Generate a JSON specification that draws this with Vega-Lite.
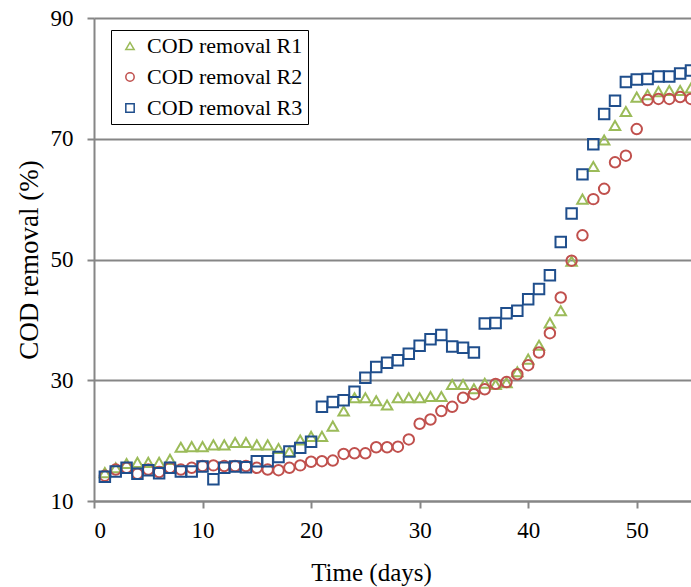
{
  "$schema": "https://vega.github.io/schema/vega-lite/v6.json",
  "width": 597,
  "height": 483,
  "autosize": {"type": "none"},
  "padding": {"left": 94, "top": 18, "right": 0, "bottom": 86},
  "background": "white",
  "config": {
    "view": {"stroke": null},
    "font": "Liberation Serif",
    "legend": {"labelFont": "Liberation Serif", "labelFontSize": 22, "labelColor": "black"}
  },
  "datasets": {
    "cod": [
      {"day": 1, "series": "COD removal R1", "removal": 14.7},
      {"day": 2, "series": "COD removal R1", "removal": 15.5},
      {"day": 3, "series": "COD removal R1", "removal": 16.2},
      {"day": 4, "series": "COD removal R1", "removal": 16.4},
      {"day": 5, "series": "COD removal R1", "removal": 16.4},
      {"day": 6, "series": "COD removal R1", "removal": 16.4},
      {"day": 7, "series": "COD removal R1", "removal": 16.9},
      {"day": 8, "series": "COD removal R1", "removal": 18.9},
      {"day": 9, "series": "COD removal R1", "removal": 19.0},
      {"day": 10, "series": "COD removal R1", "removal": 19.0},
      {"day": 11, "series": "COD removal R1", "removal": 19.3},
      {"day": 12, "series": "COD removal R1", "removal": 19.3},
      {"day": 13, "series": "COD removal R1", "removal": 19.7},
      {"day": 14, "series": "COD removal R1", "removal": 19.7},
      {"day": 15, "series": "COD removal R1", "removal": 19.3},
      {"day": 16, "series": "COD removal R1", "removal": 19.3},
      {"day": 17, "series": "COD removal R1", "removal": 18.7},
      {"day": 18, "series": "COD removal R1", "removal": 18.2},
      {"day": 19, "series": "COD removal R1", "removal": 20.1},
      {"day": 20, "series": "COD removal R1", "removal": 20.7},
      {"day": 21, "series": "COD removal R1", "removal": 20.7},
      {"day": 22, "series": "COD removal R1", "removal": 22.4},
      {"day": 23, "series": "COD removal R1", "removal": 24.9},
      {"day": 24, "series": "COD removal R1", "removal": 27.1},
      {"day": 25, "series": "COD removal R1", "removal": 27.1},
      {"day": 26, "series": "COD removal R1", "removal": 26.6},
      {"day": 27, "series": "COD removal R1", "removal": 25.9},
      {"day": 28, "series": "COD removal R1", "removal": 27.1},
      {"day": 29, "series": "COD removal R1", "removal": 27.1},
      {"day": 30, "series": "COD removal R1", "removal": 27.1},
      {"day": 31, "series": "COD removal R1", "removal": 27.3},
      {"day": 32, "series": "COD removal R1", "removal": 27.3},
      {"day": 33, "series": "COD removal R1", "removal": 29.3},
      {"day": 34, "series": "COD removal R1", "removal": 29.3},
      {"day": 35, "series": "COD removal R1", "removal": 28.6},
      {"day": 36, "series": "COD removal R1", "removal": 29.5},
      {"day": 37, "series": "COD removal R1", "removal": 29.3},
      {"day": 38, "series": "COD removal R1", "removal": 29.6},
      {"day": 39, "series": "COD removal R1", "removal": 31.4},
      {"day": 40, "series": "COD removal R1", "removal": 33.5},
      {"day": 41, "series": "COD removal R1", "removal": 35.8},
      {"day": 42, "series": "COD removal R1", "removal": 39.5},
      {"day": 43, "series": "COD removal R1", "removal": 41.5},
      {"day": 44, "series": "COD removal R1", "removal": 49.7},
      {"day": 45, "series": "COD removal R1", "removal": 60.0},
      {"day": 46, "series": "COD removal R1", "removal": 65.4},
      {"day": 47, "series": "COD removal R1", "removal": 69.8},
      {"day": 48, "series": "COD removal R1", "removal": 72.2},
      {"day": 49, "series": "COD removal R1", "removal": 74.5},
      {"day": 50, "series": "COD removal R1", "removal": 76.9},
      {"day": 51, "series": "COD removal R1", "removal": 77.3},
      {"day": 52, "series": "COD removal R1", "removal": 77.8},
      {"day": 53, "series": "COD removal R1", "removal": 78.0},
      {"day": 54, "series": "COD removal R1", "removal": 78.0},
      {"day": 55, "series": "COD removal R1", "removal": 78.4},
      {"day": 1, "series": "COD removal R2", "removal": 14.2},
      {"day": 2, "series": "COD removal R2", "removal": 15.2},
      {"day": 3, "series": "COD removal R2", "removal": 15.5},
      {"day": 4, "series": "COD removal R2", "removal": 14.5},
      {"day": 5, "series": "COD removal R2", "removal": 15.2},
      {"day": 6, "series": "COD removal R2", "removal": 14.8},
      {"day": 7, "series": "COD removal R2", "removal": 15.5},
      {"day": 8, "series": "COD removal R2", "removal": 15.2},
      {"day": 9, "series": "COD removal R2", "removal": 15.5},
      {"day": 10, "series": "COD removal R2", "removal": 15.8},
      {"day": 11, "series": "COD removal R2", "removal": 15.9},
      {"day": 12, "series": "COD removal R2", "removal": 15.8},
      {"day": 13, "series": "COD removal R2", "removal": 15.8},
      {"day": 14, "series": "COD removal R2", "removal": 15.8},
      {"day": 15, "series": "COD removal R2", "removal": 15.5},
      {"day": 16, "series": "COD removal R2", "removal": 15.2},
      {"day": 17, "series": "COD removal R2", "removal": 15.1},
      {"day": 18, "series": "COD removal R2", "removal": 15.5},
      {"day": 19, "series": "COD removal R2", "removal": 15.9},
      {"day": 20, "series": "COD removal R2", "removal": 16.5},
      {"day": 21, "series": "COD removal R2", "removal": 16.6},
      {"day": 22, "series": "COD removal R2", "removal": 16.7},
      {"day": 23, "series": "COD removal R2", "removal": 17.8},
      {"day": 24, "series": "COD removal R2", "removal": 17.9},
      {"day": 25, "series": "COD removal R2", "removal": 17.9},
      {"day": 26, "series": "COD removal R2", "removal": 18.9},
      {"day": 27, "series": "COD removal R2", "removal": 18.9},
      {"day": 28, "series": "COD removal R2", "removal": 19.0},
      {"day": 29, "series": "COD removal R2", "removal": 20.2},
      {"day": 30, "series": "COD removal R2", "removal": 22.8},
      {"day": 31, "series": "COD removal R2", "removal": 23.5},
      {"day": 32, "series": "COD removal R2", "removal": 24.9},
      {"day": 33, "series": "COD removal R2", "removal": 25.6},
      {"day": 34, "series": "COD removal R2", "removal": 27.1},
      {"day": 35, "series": "COD removal R2", "removal": 27.7},
      {"day": 36, "series": "COD removal R2", "removal": 28.5},
      {"day": 37, "series": "COD removal R2", "removal": 29.4},
      {"day": 38, "series": "COD removal R2", "removal": 29.7},
      {"day": 39, "series": "COD removal R2", "removal": 31.0},
      {"day": 40, "series": "COD removal R2", "removal": 32.5},
      {"day": 41, "series": "COD removal R2", "removal": 34.6},
      {"day": 42, "series": "COD removal R2", "removal": 37.8},
      {"day": 43, "series": "COD removal R2", "removal": 43.7},
      {"day": 44, "series": "COD removal R2", "removal": 49.8},
      {"day": 45, "series": "COD removal R2", "removal": 54.0},
      {"day": 46, "series": "COD removal R2", "removal": 60.0},
      {"day": 47, "series": "COD removal R2", "removal": 61.7},
      {"day": 48, "series": "COD removal R2", "removal": 66.1},
      {"day": 49, "series": "COD removal R2", "removal": 67.2},
      {"day": 50, "series": "COD removal R2", "removal": 71.6},
      {"day": 51, "series": "COD removal R2", "removal": 76.4},
      {"day": 52, "series": "COD removal R2", "removal": 76.6},
      {"day": 53, "series": "COD removal R2", "removal": 76.6},
      {"day": 54, "series": "COD removal R2", "removal": 76.9},
      {"day": 55, "series": "COD removal R2", "removal": 76.6},
      {"day": 1, "series": "COD removal R3", "removal": 14.0},
      {"day": 2, "series": "COD removal R3", "removal": 14.9},
      {"day": 3, "series": "COD removal R3", "removal": 15.5},
      {"day": 4, "series": "COD removal R3", "removal": 14.5},
      {"day": 5, "series": "COD removal R3", "removal": 15.1},
      {"day": 6, "series": "COD removal R3", "removal": 14.6},
      {"day": 7, "series": "COD removal R3", "removal": 15.5},
      {"day": 8, "series": "COD removal R3", "removal": 14.9},
      {"day": 9, "series": "COD removal R3", "removal": 14.9},
      {"day": 10, "series": "COD removal R3", "removal": 15.7},
      {"day": 11, "series": "COD removal R3", "removal": 13.6},
      {"day": 12, "series": "COD removal R3", "removal": 15.5},
      {"day": 13, "series": "COD removal R3", "removal": 15.7},
      {"day": 14, "series": "COD removal R3", "removal": 15.6},
      {"day": 15, "series": "COD removal R3", "removal": 16.6},
      {"day": 16, "series": "COD removal R3", "removal": 16.6},
      {"day": 17, "series": "COD removal R3", "removal": 17.3},
      {"day": 18, "series": "COD removal R3", "removal": 18.2},
      {"day": 19, "series": "COD removal R3", "removal": 18.8},
      {"day": 20, "series": "COD removal R3", "removal": 19.8},
      {"day": 21, "series": "COD removal R3", "removal": 25.6},
      {"day": 22, "series": "COD removal R3", "removal": 26.4},
      {"day": 23, "series": "COD removal R3", "removal": 26.7},
      {"day": 24, "series": "COD removal R3", "removal": 28.1},
      {"day": 25, "series": "COD removal R3", "removal": 30.4},
      {"day": 26, "series": "COD removal R3", "removal": 32.2},
      {"day": 27, "series": "COD removal R3", "removal": 32.9},
      {"day": 28, "series": "COD removal R3", "removal": 33.3},
      {"day": 29, "series": "COD removal R3", "removal": 34.4},
      {"day": 30, "series": "COD removal R3", "removal": 35.7},
      {"day": 31, "series": "COD removal R3", "removal": 36.8},
      {"day": 32, "series": "COD removal R3", "removal": 37.5},
      {"day": 33, "series": "COD removal R3", "removal": 35.6},
      {"day": 34, "series": "COD removal R3", "removal": 35.4},
      {"day": 35, "series": "COD removal R3", "removal": 34.6},
      {"day": 36, "series": "COD removal R3", "removal": 39.4},
      {"day": 37, "series": "COD removal R3", "removal": 39.5},
      {"day": 38, "series": "COD removal R3", "removal": 41.1},
      {"day": 39, "series": "COD removal R3", "removal": 41.5},
      {"day": 40, "series": "COD removal R3", "removal": 43.4},
      {"day": 41, "series": "COD removal R3", "removal": 45.1},
      {"day": 42, "series": "COD removal R3", "removal": 47.4},
      {"day": 43, "series": "COD removal R3", "removal": 52.9},
      {"day": 44, "series": "COD removal R3", "removal": 57.6},
      {"day": 45, "series": "COD removal R3", "removal": 64.1},
      {"day": 46, "series": "COD removal R3", "removal": 69.1},
      {"day": 47, "series": "COD removal R3", "removal": 74.1},
      {"day": 48, "series": "COD removal R3", "removal": 76.3},
      {"day": 49, "series": "COD removal R3", "removal": 79.4},
      {"day": 50, "series": "COD removal R3", "removal": 79.8},
      {"day": 51, "series": "COD removal R3", "removal": 79.9},
      {"day": 52, "series": "COD removal R3", "removal": 80.3},
      {"day": 53, "series": "COD removal R3", "removal": 80.3},
      {"day": 54, "series": "COD removal R3", "removal": 80.8},
      {"day": 55, "series": "COD removal R3", "removal": 81.3}
    ]
  },
  "data": {"name": "cod"},
  "mark": {"type": "point", "filled": false, "strokeWidth": 2, "size": 110, "opacity": 1, "clip": true},
  "encoding": {
    "x": {
      "field": "day", "type": "quantitative",
      "scale": {"domain": [0, 55], "nice": false, "zero": false},
      "axis": {
        "title": "Time (days)", "values": [0, 10, 20, 30, 40, 50], "grid": false,
        "domainColor": "#868686", "domainWidth": 2, "tickColor": "#868686", "tickWidth": 2, "tickSize": 7,
        "labelFont": "Liberation Serif", "labelFontSize": 23, "labelColor": "black", "labelPadding": 11,
        "titleFont": "Liberation Serif", "titleFontSize": 25, "titleFontWeight": "normal", "titleColor": "black", "titlePadding": 18,
        "titleX": 277
      }
    },
    "y": {
      "field": "removal", "type": "quantitative",
      "scale": {"domain": [10, 90], "nice": false, "zero": false},
      "axis": {
        "title": "COD removal (%)", "values": [10, 30, 50, 70, 90], "grid": true,
        "gridColor": "#868686", "gridWidth": 2,
        "domainColor": "#868686", "domainWidth": 2, "tickColor": "#868686", "tickWidth": 2, "tickSize": 7,
        "labelFont": "Liberation Serif", "labelFontSize": 23, "labelColor": "black", "labelPadding": 14,
        "titleFont": "Liberation Serif", "titleFontSize": 27, "titleFontWeight": "normal", "titleColor": "black", "titlePadding": 7
      }
    },
    "color": {
      "field": "series", "type": "nominal",
      "scale": {"domain": ["COD removal R1", "COD removal R2", "COD removal R3"], "range": ["#9BBB59", "#C0504D", "#1F4E8C"]},
      "legend": {
        "orient": "none", "legendX": 17, "legendY": 12, "title": null,
        "labelFont": "Liberation Serif", "labelFontSize": 22, "labelColor": "black",
        "labelExpr": "datum.label + '\u00a0\u00a0'",
        "symbolSize": 70, "symbolStrokeWidth": 1.5, "strokeColor": "black", "fillColor": "white",
        "padding": 5, "rowPadding": 9, "symbolOffset": 3, "labelOffset": 6
      }
    },
    "shape": {
      "field": "series", "type": "nominal",
      "scale": {"domain": ["COD removal R1", "COD removal R2", "COD removal R3"], "range": ["triangle-up", "circle", "square"]},
      "legend": {
        "orient": "none", "legendX": 17, "legendY": 12, "title": null,
        "labelFont": "Liberation Serif", "labelFontSize": 22, "labelColor": "black",
        "labelExpr": "datum.label + '\u00a0\u00a0'",
        "symbolSize": 70, "symbolStrokeWidth": 1.5, "strokeColor": "black", "fillColor": "white",
        "padding": 5, "rowPadding": 9, "symbolOffset": 3, "labelOffset": 6
      }
    }
  }
}
